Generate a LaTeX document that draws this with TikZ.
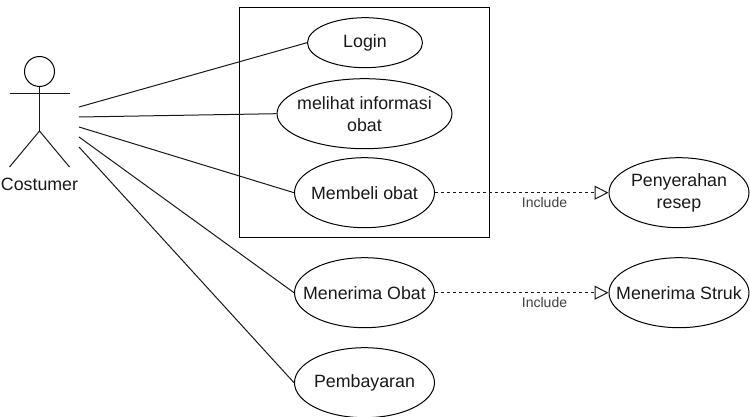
\documentclass[tikz,border=0pt]{standalone}
\usepackage{fontspec}
\setmainfont{Liberation Sans}
\usetikzlibrary{shapes.geometric,arrows.meta}
\tikzset{
  usecase/.style={draw,ellipse,inner xsep=-45pt,inner ysep=-25pt,align=center,font=\fontsize{17.8}{22}\selectfont,text=black!90,line width=1pt},
  line/.style={draw=black!90,line width=1pt},
  incl/.style={line,dash pattern=on 3pt off 3pt,-{Triangle[open,length=14pt,width=14pt,line width=1pt]}},
  lbl/.style={font=\fontsize{14}{16}\selectfont,text=black!75,inner sep=0pt}
}
\begin{document}
\begin{tikzpicture}[x=1pt,y=-1pt]
\useasboundingbox[fill=white] (0,0) rectangle (750,417);
\node[draw,line width=1pt,minimum width=250pt,minimum height=229pt,inner sep=0pt] (box) at (364.5,122.5) {};
\node[usecase,minimum width=115pt,minimum height=50pt] (login) at (365,42.7) {Login};
\node[usecase,minimum width=175pt,minimum height=70pt] (info) at (364.5,113.7) {melihat informasi\\obat};
\node[usecase,minimum width=140pt,minimum height=70pt] (beli) at (364.5,192.7) {Membeli obat};
\node[usecase,minimum width=140pt,minimum height=70pt] (terima) at (364.5,292.7) {Menerima Obat};
\node[usecase,minimum width=140pt,minimum height=70pt] (bayar) at (364.5,382.7) {Pembayaran};
\node[usecase,minimum width=140pt,minimum height=70pt] (resep) at (679,192.7) {Penyerahan\\resep};
\node[usecase,minimum width=140pt,minimum height=70pt] (struk) at (679,292.7) {Menerima Struk};
% actor
\node[draw,circle,line width=1pt,minimum size=30pt,inner sep=0pt] (head) at (39.5,71.5) {};
\coordinate (neck) at (39.5,94);
\coordinate (hip) at (39.5,131);
\coordinate (handl) at (9.5,94);
\coordinate (handr) at (69.5,94);
\coordinate (footl) at (9.5,167);
\coordinate (footr) at (69.5,167);
\draw[line] (head.south) -- (hip);
\draw[line] (handl) -- (handr);
\draw[line] (footl) -- (hip) -- (footr);
\node[font=\fontsize{17.8}{20}\selectfont,text=black!90,inner sep=0pt] (actor) at (39.5,184) {Costumer};
% associations
\coordinate (a1) at (79,107);
\coordinate (a2) at (79,117);
\coordinate (a3) at (79,127);
\coordinate (a4) at (79,137);
\coordinate (a5) at (79,147);
\draw[line] (a1) -- (login.west);
\draw[line] (a2) -- (info.west);
\draw[line] (a3) -- (beli.west);
\draw[line] (a4) -- (terima.west);
\draw[line] (a5) -- (bayar.west);
% includes
\draw[incl] (beli.east) -- (resep.west);
\draw[incl] (terima.east) -- (struk.west);
\node[lbl] (inc1) at (544.5,202) {Include};
\node[lbl] (inc2) at (544.5,302) {Include};
\end{tikzpicture}
\end{document}
